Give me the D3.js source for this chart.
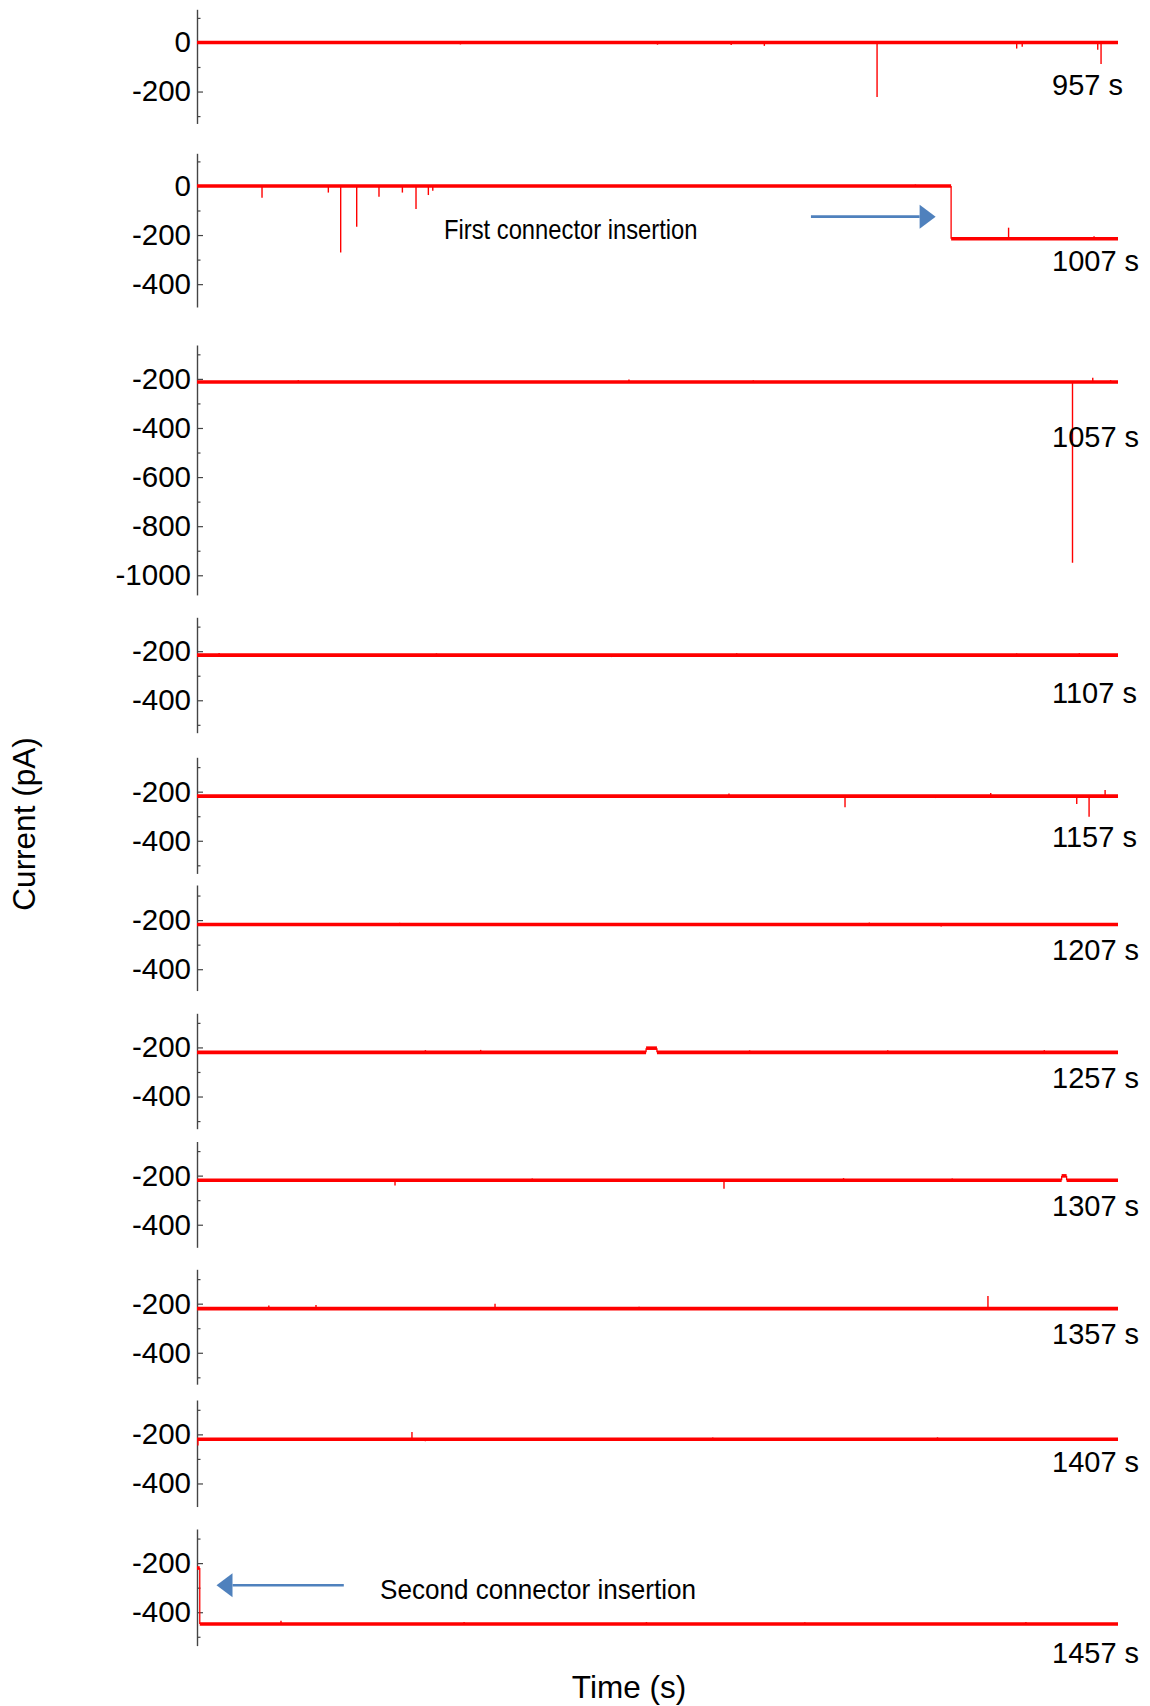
<!DOCTYPE html>
<html>
<head>
<meta charset="utf-8">
<script src="https://cdn.jsdelivr.net/npm/d3@7"></script>
<style>
  html, body { margin: 0; padding: 0; background: #fff; }
  svg { display: block; font-family: "Liberation Sans", Arial, sans-serif; }
</style>
</head>
<body>
<svg id="chart" width="1150" height="1706"></svg>
<script>
// ---- Recording segments: 50 s windows, labelled by their time stamp ----
const panelLabels = ["957 s", "1007 s", "1057 s", "1107 s", "1157 s", "1207 s",
                     "1257 s", "1307 s", "1357 s", "1407 s", "1457 s"];

// Current range shown on each segment's axis (pA)
const currentRanges = [
  [-330, 135], [-493, 133], [-1080, -62], [-532, -62], [-533, -60], [-487, -57],
  [-531, -61], [-492, -61], [-528, -60], [-494, -60], [-536, -61]
];

// Labelled ticks on each axis (pA)
const tickLabels = [
  [0, -200], [0, -200, -400], [-200, -400, -600, -800, -1000],
  [-200, -400], [-200, -400], [-200, -400], [-200, -400],
  [-200, -400], [-200, -400], [-200, -400], [-200, -400]
];

// Baseline current levels: [start s, end s, current pA]
const baselineLevels = [
  [[0, 50, 0]],
  [[0, 40.94, 0], [40.94, 50, -215]],
  [[0, 50, -213]],
  [[0, 50, -216]],
  [[0, 50, -218]],
  [[0, 50, -218]],
  [[0, 24.38, -220], [24.38, 24.97, -203], [24.97, 50, -220]],
  [[0, 46.94, -219], [46.94, 47.21, -201], [47.21, 50, -219]],
  [[0, 50, -220]],
  [[0, 50, -220]],
  [[0, 0.15, -220], [0.15, 50, -448]]
];

// Transient current spikes: [time s, peak current pA]
const spikeEvents = [
  [[4.1, 6], [14.3, -8], [25.0, -9], [29.0, -10], [30.8, -14], [36.92, -222], [44.5, -25], [44.8, -18], [49.08, -88], [48.9, -30]],
  [[3.53, -48], [7.13, -27], [7.80, -271], [8.67, -166], [9.88, -44], [11.15, -27], [11.89, -94], [12.56, -37], [12.8, -20], [39.0, 6], [44.06, -170], [48.7, -205]],
  [[5.5, -205], [23.45, -203], [30.2, -206], [47.53, -949], [48.63, -195], [49.6, -205]],
  [[1.2, -207], [13.0, -209], [22.5, -224], [29.3, -208], [44.5, -209], [47.9, -208]],
  [[9.2, -225], [28.88, -207], [35.18, -263], [40.1, -226], [43.09, -205], [47.76, -250], [48.43, -302], [49.3, -193]],
  [[11.0, -211], [23.0, -212], [36.5, -210], [40.4, -226]],
  [[12.4, -211], [15.4, -210], [30.0, -212], [34.0, -226], [37.5, -212], [46.0, -211]],
  [[10.75, -240], [18.2, -212], [28.61, -253], [35.1, -210], [41.0, -212]],
  [[3.9, -207], [6.46, -205], [16.18, -200], [24.0, -213], [42.94, -169], [44.2, -214]],
  [[0.05, -245], [11.67, -190], [12.4, -228], [28.0, -213], [40.2, -212]],
  [[4.56, -435], [14.5, -440], [24.4, -440], [33.0, -441], [45.0, -440]]
];

// Annotations: text, segment index, arrow tail/tip time (s), arrow current (pA)
const annotations = [
  { text: "First connector insertion", panel: 1, tail: 33.33, tip: 40.1, current: -125 },
  { text: "Second connector insertion", panel: 10, tail: 7.97, tip: 1.06, current: -290 }
];

// ---- Layout ----
const svg = d3.select("#chart");
const xLeft = 197, xRight = 1118;
const pxPerPA = 0.2455;
const panelTops = [9.3, 153.3, 345, 617.3, 757.3, 885, 1013.3, 1141.5, 1269.3, 1400, 1529];
const labelBaselines = [95, 271, 447, 703, 847, 960, 1088, 1216, 1344, 1472, 1663];
const annotationText = [
  { x: 444, y: 238.5, width: 253.5 },
  { x: 380, y: 1599, width: 316 }
];

const x = d3.scaleLinear().domain([0, 50]).range([xLeft, xRight]);
const RED = "#ff0000";

panelLabels.forEach((label, i) => {
  const [lo, hi] = currentRanges[i];
  const top = panelTops[i];
  const y = d3.scaleLinear().domain([lo, hi]).range([top + (hi - lo) * pxPerPA, top]);
  const g = svg.append("g").attr("class", "panel");

  // minor ticks every 100 pA
  const minor = d3.range(Math.ceil(lo / 100) * 100, hi + 1, 100)
    .filter(v => !tickLabels[i].includes(v));
  const minorAxis = d3.axisLeft(y).tickValues(minor).tickSizeInner(-3.5).tickSizeOuter(0).tickFormat("");
  g.append("g").attr("transform", `translate(${xLeft},0)`).call(minorAxis)
    .call(a => a.select(".domain").remove())
    .call(a => a.selectAll("line").attr("stroke", "#444").attr("stroke-width", 1.2));

  const axis = d3.axisLeft(y).tickValues(tickLabels[i]).tickSizeInner(-6).tickSizeOuter(0)
    .tickPadding(6).tickFormat(d => String(d));
  g.append("g").attr("transform", `translate(${xLeft},0)`).call(axis)
    .call(a => a.select(".domain").attr("stroke", "#444").attr("stroke-width", 1.4))
    .call(a => a.selectAll("line").attr("stroke", "#444").attr("stroke-width", 1.2))
    .call(a => a.selectAll("text")
      .attr("font-family", "'Liberation Sans', Arial, sans-serif")
      .attr("font-size", 29.5).attr("fill", "#000"));

  // step connectors between baseline levels
  const lv = baselineLevels[i];
  for (let j = 1; j < lv.length; j++) {
    g.append("line")
      .attr("x1", x(lv[j][0])).attr("x2", x(lv[j][0]))
      .attr("y1", y(lv[j - 1][2])).attr("y2", y(lv[j][2]))
      .attr("stroke", RED).attr("stroke-width", 1.3);
  }

  // spikes from the local baseline
  const levelAt = t => (lv.find(s => t >= s[0] && t <= s[1]) || lv[lv.length - 1])[2];
  g.selectAll("line.spike").data(spikeEvents[i]).join("line")
    .attr("class", "spike")
    .attr("x1", d => x(d[0])).attr("x2", d => x(d[0]))
    .attr("y1", d => y(levelAt(d[0]))).attr("y2", d => y(d[1]))
    .attr("stroke", RED).attr("stroke-width", 1.4);

  // baseline trace
  g.selectAll("line.level").data(lv).join("line")
    .attr("class", "level")
    .attr("x1", d => x(d[0])).attr("x2", d => x(d[1]))
    .attr("y1", d => y(d[2])).attr("y2", d => y(d[2]))
    .attr("stroke", RED).attr("stroke-width", 3.6);

  g.append("text")
    .attr("x", 1052).attr("y", labelBaselines[i])
    .attr("font-size", 29).attr("fill", "#000")
    .text(label);

  // annotation arrows
  annotations.forEach((a, k) => {
    if (a.panel !== i) return;
    const ay = y(a.current);
    const x0 = x(a.tail), x1 = x(a.tip);
    const dir = Math.sign(x1 - x0);
    const headLen = 16, headHalf = 12;
    g.append("line")
      .attr("x1", x0).attr("x2", x1 - dir * headLen)
      .attr("y1", ay).attr("y2", ay)
      .attr("stroke", "#4f81bd").attr("stroke-width", 2.6);
    g.append("path")
      .attr("d", `M${x1},${ay} L${x1 - dir * headLen},${ay - headHalf} L${x1 - dir * headLen},${ay + headHalf} Z`)
      .attr("fill", "#4f81bd");
    const t = annotationText[k];
    g.append("text")
      .attr("x", t.x).attr("y", t.y)
      .attr("font-size", 28.5).attr("fill", "#000")
      .attr("textLength", t.width).attr("lengthAdjust", "spacingAndGlyphs")
      .text(a.text);
  });
});

// axis titles
svg.append("text")
  .attr("transform", "translate(35,824) rotate(-90)")
  .attr("text-anchor", "middle")
  .attr("font-size", 31.5).attr("fill", "#000")
  .text("Current (pA)");

svg.append("text")
  .attr("x", 629).attr("y", 1698)
  .attr("text-anchor", "middle")
  .attr("font-size", 31.5).attr("fill", "#000")
  .text("Time (s)");
</script>
</body>
</html>
